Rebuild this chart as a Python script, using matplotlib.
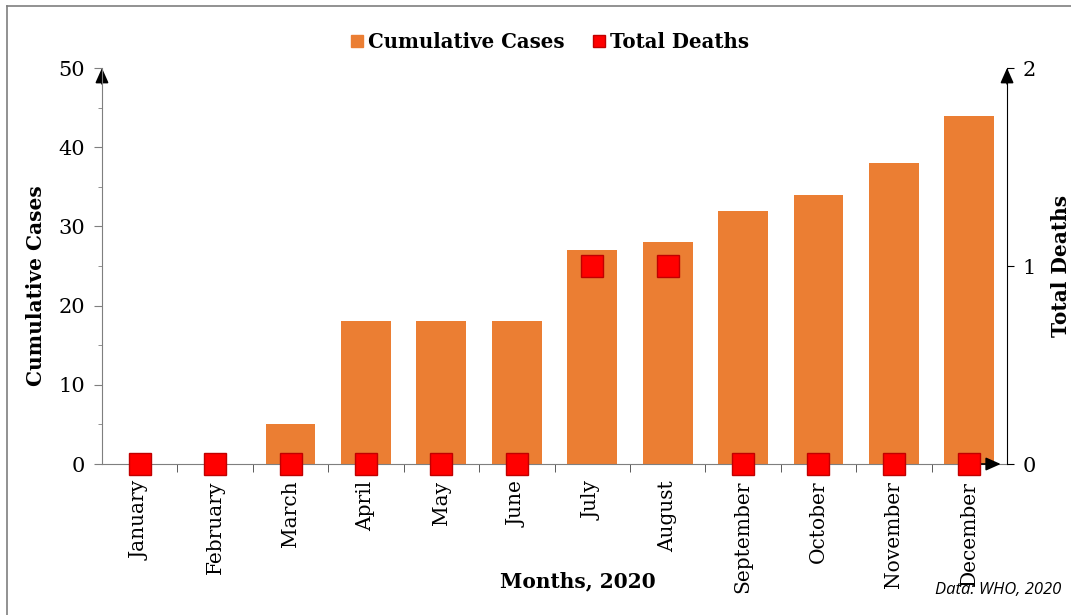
import matplotlib
matplotlib.use("Agg")
import matplotlib.pyplot as plt
from matplotlib.lines import Line2D
import numpy as np

months = ["January", "February", "March", "April", "May", "June",
          "July", "August", "September", "October", "November", "December"]
cumulative_cases = [0, 0, 5, 18, 18, 18, 27, 28, 32, 34, 38, 44]
total_deaths = [0, 0, 0, 0, 0, 0, 1, 1, 0, 0, 0, 0]

BAR = "#EB7E33"
RED = "#FF0000"
DARKRED = "#C00000"
GREY = "#7F7F7F"
SERIF = "DejaVu Serif"

fig = plt.figure(figsize=(10.71, 6.15), dpi=100)
ax = fig.add_axes([0.0952, 0.2455, 0.8451, 0.6439])
x = np.arange(len(months))

ax.bar(x, cumulative_cases, width=0.66, color=BAR, zorder=2)
ax.set_xlim(-0.5, len(months) - 0.5)
ax.set_ylim(0, 50)

# spines
for s in ["top", "right"]:
    ax.spines[s].set_visible(False)
ax.spines["left"].set_color(GREY)
ax.spines["bottom"].set_color(GREY)
ax.spines["left"].set_zorder(3)

ax.set_yticks(np.arange(0, 51, 10))
ax.set_yticks(np.arange(5, 50, 10), minor=True)
ax.tick_params(axis="y", which="major", direction="out", length=6, color=GREY,
               labelsize=15, pad=6)
ax.tick_params(axis="y", which="minor", direction="out", length=3, color=GREY)
for t in ax.get_yticklabels():
    t.set_family(SERIF)

ax.set_xticks(x)
ax.set_xticklabels(months, rotation=90, family=SERIF, fontsize=14.5)
ax.set_xticks(np.arange(0.5, len(months) - 1, 1.0), minor=True)
ax.tick_params(axis="x", which="major", length=0, pad=12)
ax.tick_params(axis="x", which="minor", direction="out", length=6, color="#404040")

ax.set_ylabel("Cumulative Cases", family=SERIF, fontweight="bold", fontsize=14.5)
ax.yaxis.set_label_coords(-0.062, 0.45)
ax.set_xlabel("Months, 2020", family=SERIF, fontweight="bold", fontsize=14.5)
ax.xaxis.set_label_coords(0.526, -0.27)

# secondary axis for deaths
ax2 = ax.twinx()
ax2.set_ylim(0, 2)
ax2.set_yticks([0, 1, 2])
for s in ["top", "left", "bottom"]:
    ax2.spines[s].set_visible(False)
ax2.spines["right"].set_color("black")
ax2.tick_params(axis="y", direction="out", length=5, color="black",
                labelsize=15, pad=6)
for t in ax2.get_yticklabels():
    t.set_family(SERIF)
ax2.plot(x, total_deaths, linestyle="none", marker="s", markersize=16,
         markerfacecolor=RED, markeredgecolor=DARKRED, markeredgewidth=1,
         clip_on=False, zorder=5)
ax2.set_ylabel("Total Deaths", family=SERIF, fontweight="bold", fontsize=14.5)
ax2.yaxis.set_label_coords(1.049, 0.5)

# arrow heads on axis ends
arrow = dict(arrowstyle="-|>,head_length=0.9,head_width=0.4", color="black", lw=1.2,
             shrinkA=0, shrinkB=0)
ax.annotate("", xy=(0, 1.0), xytext=(0, 0.96), xycoords="axes fraction",
            arrowprops=arrow, annotation_clip=False)
ax.annotate("", xy=(1.0, 1.0), xytext=(1.0, 0.96), xycoords="axes fraction",
            arrowprops=arrow, annotation_clip=False)
ax.annotate("", xy=(0.993, 0), xytext=(0.96, 0), xycoords="axes fraction",
            arrowprops=arrow, annotation_clip=False)

# legend
handles = [
    Line2D([], [], linestyle="none", marker="s", markersize=9,
           markerfacecolor=BAR, markeredgecolor=BAR),
    Line2D([], [], linestyle="none", marker="s", markersize=9,
           markerfacecolor=RED, markeredgecolor=DARKRED),
]
fig.legend(handles, ["Cumulative Cases", "Total Deaths"], loc="center",
           bbox_to_anchor=(0.512, 0.932), ncol=2, frameon=False,
           prop={"family": SERIF, "weight": "bold", "size": 14.2},
           handletextpad=0.1, columnspacing=1.3, handlelength=0.9)

fig.text(0.991, 0.04, "Data: WHO, 2020", ha="right", va="center",
         family="Open Sans", style="italic", fontsize=12)

# figure frame edges
fig.add_artist(Line2D([0.0065, 0.0065], [0.0, 0.99], color=GREY, lw=1.2))
fig.add_artist(Line2D([0.0065, 1.0], [0.99, 0.99], color=GREY, lw=1.2))

fig.savefig("out.png", dpi=100)
